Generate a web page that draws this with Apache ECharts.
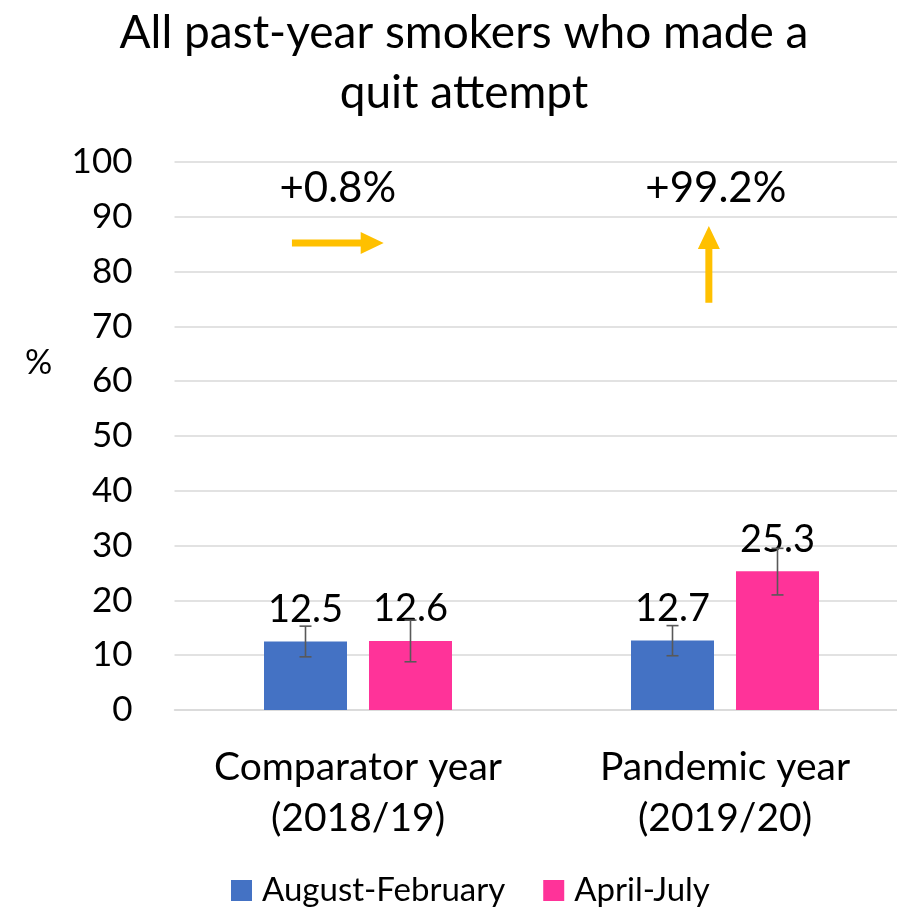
<!DOCTYPE html>
<html>
<head>
<meta charset="utf-8">
<script src="https://cdn.jsdelivr.net/npm/echarts@6/dist/echarts.min.js"></script>
<style>html,body{margin:0;padding:0;background:#fff;}#c{width:897px;height:908px;}</style>
</head>
<body>
<div id="c"></div>
<script>
// ---- data ----
const titleLines = ['All past-year smokers who made a', 'quit attempt'];
const categories = ['Comparator year\n(2018/19)', 'Pandemic year\n(2019/20)'];
const seriesNames = ['August-February', 'April-July'];
const augFeb = [12.5, 12.7];
const aprJul = [12.6, 25.3];
const augFebLow = [9.7, 9.9];
const augFebHigh = [15.3, 15.4];
const aprJulLow = [8.8, 21.0];
const aprJulHigh = [16.4, 29.5];
const yTicks = [0, 10, 20, 30, 40, 50, 60, 70, 80, 90, 100];
// annotation arrows: [x1, y1, x2, y2] on a 0..2 helper axis (category centres at 0.5 and 1.5)
const arrows = [[0.32, 85.2, 0.57, 85.2], [1.456, 74.3, 1.456, 88.3]];
const annotationText = ['+0.8%', '+99.2%'];
const annotationPos = [[0.445, 95.2], [1.475, 95.2]];

const FONT = 'Lato';
const BAR_W = 83;
const OFFS = [-52.5, 52.5];

function errData(low, high) { return low.map((l, i) => [i, l, high[i]]); }

function errorSeries(name, low, high, k) {
  return {
    type: 'custom', name: name + ' err', xAxisIndex: 0, yAxisIndex: 0, z: 5,
    silent: true,
    data: errData(low, high),
    renderItem: function (params, api) {
      const lo = api.coord([api.value(0), api.value(1)]);
      const hi = api.coord([api.value(0), api.value(2)]);
      const x = lo[0] + OFFS[k];
      const cap = 6;
      const st = { stroke: '#595959', lineWidth: 1.6 };
      return { type: 'group', children: [
        { type: 'line', shape: { x1: x, y1: lo[1], x2: x, y2: hi[1] }, style: st },
        { type: 'line', shape: { x1: x - cap, y1: lo[1], x2: x + cap, y2: lo[1] }, style: st },
        { type: 'line', shape: { x1: x - cap, y1: hi[1], x2: x + cap, y2: hi[1] }, style: st }
      ]};
    }
  };
}

const chart = echarts.init(document.getElementById('c'));
chart.setOption({
  animation: false,
  textStyle: { fontFamily: FONT },
  graphic: [
    { type: 'text', x: 464, y: 33, style: { text: titleLines[0], font: '46px ' + FONT, fill: '#000', align: 'center', verticalAlign: 'middle' } },
    { type: 'text', x: 464, y: 93, style: { text: titleLines[1], font: '46px ' + FONT, fill: '#000', align: 'center', verticalAlign: 'middle' } },
    { type: 'text', x: 25, y: 363, style: { text: '%', font: '34px ' + FONT, fill: '#000', verticalAlign: 'middle' } }
  ],
  legend: {
    data: seriesNames, top: 869, left: 226, itemWidth: 21, itemHeight: 21, itemGap: 38,
    icon: 'rect',
    textStyle: { fontFamily: FONT, fontSize: 33, color: '#000', padding: [0, 0, 0, 5] }
  },
  grid: { left: 174.5, top: 162, width: 734, height: 548, containLabel: false, outerBoundsMode: 'none' },
  xAxis: [{
    type: 'category', data: categories,
    axisLine: { show: true, lineStyle: { color: '#d9d9d9', width: 1.5 } },
    axisTick: { show: false },
    axisLabel: { interval: 0, hideOverlap: false, fontFamily: FONT, fontSize: 39, color: '#000', lineHeight: 51, margin: 32 }
  }, {
    type: 'value', min: 0, max: 2, show: false
  }],
  yAxis: [{
    type: 'value', min: 0, max: 100, interval: 10,
    axisLabel: { fontFamily: FONT, fontSize: 35, color: '#000', margin: 42,
      formatter: v => yTicks.includes(v) ? String(v) : '' },
    splitLine: { lineStyle: { color: '#d9d9d9', width: 1.5 } },
    axisLine: { show: false }, axisTick: { show: false }
  }],
  series: [
    { name: seriesNames[0], type: 'bar', data: augFeb, barWidth: BAR_W, barGap: '26.5%',
      itemStyle: { color: '#4472C4' },
      label: { show: true, position: 'top', distance: 13, fontFamily: FONT, fontSize: 38, color: '#000' } },
    { name: seriesNames[1], type: 'bar', data: aprJul, barWidth: BAR_W,
      itemStyle: { color: '#FF3399' },
      label: { show: true, position: 'top', distance: 13, fontFamily: FONT, fontSize: 38, color: '#000' } },
    errorSeries(seriesNames[0], augFebLow, augFebHigh, 0),
    errorSeries(seriesNames[1], aprJulLow, aprJulHigh, 1),
    {
      type: 'custom', xAxisIndex: 1, yAxisIndex: 0, silent: true, z: 6,
      data: arrows,
      renderItem: function (params, api) {
        const p1 = api.coord([api.value(0), api.value(1)]);
        const p2 = api.coord([api.value(2), api.value(3)]);
        const dx = p2[0] - p1[0], dy = p2[1] - p1[1];
        const len = Math.sqrt(dx * dx + dy * dy);
        const ux = dx / len, uy = dy / len, nx = -uy, ny = ux;
        const sw = 3.5, hw = 11, hl = 23;
        const bx = p2[0] - ux * hl, by = p2[1] - uy * hl;
        const pts = [
          [p1[0] + nx * sw, p1[1] + ny * sw],
          [bx + nx * sw, by + ny * sw],
          [bx + nx * hw, by + ny * hw],
          [p2[0], p2[1]],
          [bx - nx * hw, by - ny * hw],
          [bx - nx * sw, by - ny * sw],
          [p1[0] - nx * sw, p1[1] - ny * sw]
        ];
        return { type: 'polygon', shape: { points: pts }, style: { fill: '#FFC000' } };
      }
    },
    {
      type: 'custom', xAxisIndex: 1, yAxisIndex: 0, silent: true, z: 6,
      data: annotationPos.map((p, i) => [p[0], p[1], i]),
      renderItem: function (params, api) {
        const p = api.coord([api.value(0), api.value(1)]);
        return { type: 'text', x: p[0], y: p[1],
          style: { text: annotationText[api.value(2)], font: '42px ' + FONT, fill: '#000', align: 'center', verticalAlign: 'middle' } };
      }
    }
  ]
});
</script>
</body>
</html>
